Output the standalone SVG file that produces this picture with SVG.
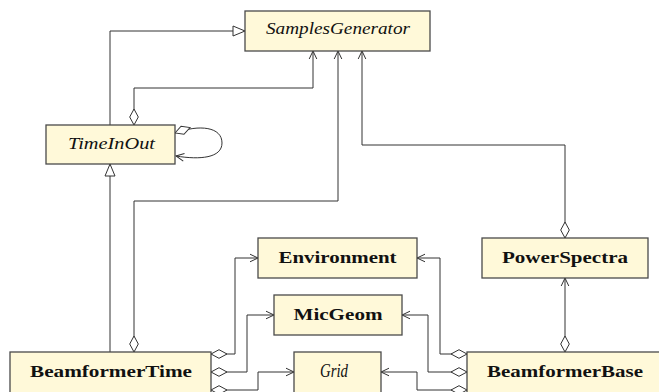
<svg xmlns="http://www.w3.org/2000/svg" width="659" height="392" viewBox="0 0 659 392">
  <style>
    .box { fill: #fff9d9; stroke: #4a4a4a; stroke-width: 1.3; }
    .lbl { font-family: "Liberation Serif", "DejaVu Serif", serif; font-size: 16px; fill: #111; text-anchor: middle; }
    .it { font-style: italic; }
    .bd { font-weight: bold; }
    .big { font-size: 18px; }
    .edge { fill: none; stroke: #333; stroke-width: 1; }
    .agg { marker-start: url(#diamond); }
    .nav { marker-end: url(#open); }
    .gen { marker-end: url(#tri); }
  </style>
  <defs>
    <marker id="open" markerUnits="userSpaceOnUse" markerWidth="12" markerHeight="12" viewBox="-10 -6 12 12" refX="0" refY="0" orient="auto">
      <path d="M-8,-3.8 L0,0 L-8,3.8" fill="none" stroke="#333" stroke-width="1"/>
    </marker>
    <marker id="tri" markerUnits="userSpaceOnUse" markerWidth="16" markerHeight="14" viewBox="-14 -7 16 14" refX="0" refY="0" orient="auto">
      <path d="M-12,-5 L0,0 L-12,5 Z" fill="#fff" stroke="#333" stroke-width="1"/>
    </marker>
    <marker id="diamond" markerUnits="userSpaceOnUse" markerWidth="20" markerHeight="12" viewBox="-1 -6 20 12" refX="0" refY="0" orient="auto">
      <path d="M0,0 L8,-4.3 L16,0 L8,4.3 Z" fill="#fff" stroke="#333" stroke-width="1"/>
    </marker>
  </defs>

  <g id="connectors">
    <!-- generalisations -->
    <path class="edge gen" d="M110,125 V31 H245"/>
    <path class="edge gen" d="M110,352 V164"/>
    <!-- aggregations towards SamplesGenerator -->
    <path class="edge agg nav" d="M134,125 V88 H313 V51"/>
    <path class="edge agg nav" d="M134,352 V201 H338 V51"/>
    <path class="edge agg nav" d="M565,238 V145 H362 V51"/>
    <!-- TimeInOut self association -->
    <path class="edge agg nav" d="M175,133 C200,124 222,127 222,143 C222,158 200,160 176,156"/>
    <!-- BeamformerBase to PowerSpectra -->
    <path class="edge agg nav" d="M565,352 V278"/>
    <!-- BeamformerTime parts -->
    <path class="edge agg nav" d="M211,354 H235 V258 H258"/>
    <path class="edge agg nav" d="M211,372 H247 V315 H274"/>
    <path class="edge agg nav" d="M211,390 H258 V372 H294"/>
    <!-- BeamformerBase parts -->
    <path class="edge agg nav" d="M467,354 H440 V258 H417"/>
    <path class="edge agg nav" d="M467,372 H428 V315 H402"/>
    <path class="edge agg nav" d="M467,390 H417 V372 H381"/>
  </g>

  <g id="SamplesGenerator">
    <rect class="box" x="245" y="11" width="185" height="40"/>
    <text class="lbl it" x="338" y="34" textLength="144" lengthAdjust="spacingAndGlyphs">SamplesGenerator</text>
  </g>
  <g id="TimeInOut">
    <rect class="box" x="46" y="125" width="129" height="39"/>
    <text class="lbl it" x="111.5" y="149" textLength="87" lengthAdjust="spacingAndGlyphs">TimeInOut</text>
  </g>
  <g id="Environment">
    <rect class="box" x="258" y="238" width="159" height="40"/>
    <text class="lbl bd" x="337.5" y="263" textLength="118" lengthAdjust="spacingAndGlyphs">Environment</text>
  </g>
  <g id="PowerSpectra">
    <rect class="box" x="482" y="238" width="166" height="40"/>
    <text class="lbl bd" x="565" y="263" textLength="126" lengthAdjust="spacingAndGlyphs">PowerSpectra</text>
  </g>
  <g id="MicGeom">
    <rect class="box" x="274" y="295" width="128" height="40"/>
    <text class="lbl bd" x="338" y="320" textLength="89" lengthAdjust="spacingAndGlyphs">MicGeom</text>
  </g>
  <g id="BeamformerTime">
    <rect class="box" x="10" y="352" width="201" height="41"/>
    <text class="lbl bd" x="111" y="377" textLength="162" lengthAdjust="spacingAndGlyphs">BeamformerTime</text>
  </g>
  <g id="Grid">
    <rect class="box" x="294" y="352" width="87" height="41"/>
    <text class="lbl it big" x="334" y="377" textLength="28" lengthAdjust="spacingAndGlyphs">Grid</text>
  </g>
  <g id="BeamformerBase">
    <rect class="box" x="467" y="352" width="196" height="41"/>
    <text class="lbl bd" x="565" y="377" textLength="156" lengthAdjust="spacingAndGlyphs">BeamformerBase</text>
  </g>
</svg>
